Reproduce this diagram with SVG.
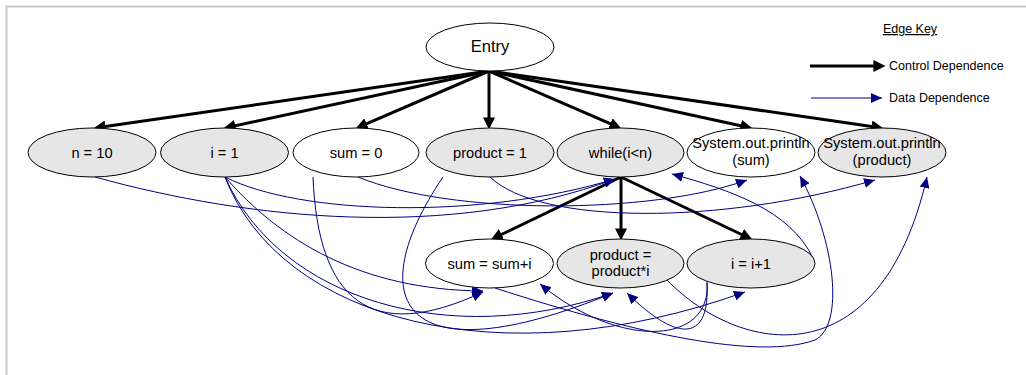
<svg xmlns="http://www.w3.org/2000/svg" width="1026" height="375" viewBox="0 0 1026 375">
  <style>
    .node ellipse { stroke: #000; stroke-width: 1; }
    .plain { fill: #fff; }
    .shaded { fill: #e6e6e6; }
    .node text { font-family: "Liberation Sans", Arial, sans-serif; font-size: 14.7px; fill: #000; text-anchor: middle; }
    .node text.big { font-size: 16.6px; }
    .ctrl { fill: none; stroke: #000; stroke-width: 3; }
    .data { fill: none; stroke: #000080; stroke-width: 1; }
    .key text { font-family: "Liberation Sans", Arial, sans-serif; font-size: 12.5px; fill: #000; }
  </style>
  <defs>
    <marker id="ctrlHead" markerUnits="userSpaceOnUse" markerWidth="12" markerHeight="12" viewBox="0 0 10 10" refX="3" refY="5" orient="auto">
      <path d="M0,0 L10,5 L0,10 Z" fill="#000"/>
    </marker>
    <marker id="dataHead" markerUnits="userSpaceOnUse" markerWidth="11" markerHeight="10" viewBox="0 0 11 10" refX="11" refY="5" orient="auto">
      <path d="M0,0 L11,5 L0,10 Z" fill="#000080"/>
    </marker>
  </defs>

  <rect width="1026" height="375" fill="#fff"/>
  <!-- panel frame -->
  <path d="M6.5,375 V6.5 H1026" fill="none" stroke="#c8c8c8" stroke-width="2"/>

  <g id="connectors">
    <!-- control dependences -->
    <path class="ctrl" marker-end="url(#ctrlHead)" d="M489,71 L101.9,127"/>
    <path class="ctrl" marker-end="url(#ctrlHead)" d="M489,71 L231.8,126.5"/>
    <path class="ctrl" marker-end="url(#ctrlHead)" d="M489,71 L363.4,125.2"/>
    <path class="ctrl" marker-end="url(#ctrlHead)" d="M489,71 L489,121"/>
    <path class="ctrl" marker-end="url(#ctrlHead)" d="M489,71 L613.6,125.2"/>
    <path class="ctrl" marker-end="url(#ctrlHead)" d="M489,71 L744.2,126.5"/>
    <path class="ctrl" marker-end="url(#ctrlHead)" d="M489,71 L875.1,127"/>
    <path class="ctrl" marker-end="url(#ctrlHead)" d="M621,177 L498.3,236"/>
    <path class="ctrl" marker-end="url(#ctrlHead)" d="M621,177 L621,232"/>
    <path class="ctrl" marker-end="url(#ctrlHead)" d="M621,177 L744.7,236"/>

    <!-- data dependences -->
    <path class="data" marker-end="url(#dataHead)" d="M95,177 C250,220 450,240 615,179"/>
    <path class="data" marker-end="url(#dataHead)" d="M225,177 C300,215 480,220 615,179"/>
    <path class="data" marker-end="url(#dataHead)" d="M225,177 C280,240 360,290 483,291"/>
    <path class="data" marker-end="url(#dataHead)" d="M225,177 C280,300 450,350 613,293"/>
    <path class="data" marker-end="url(#dataHead)" d="M225,177 C280,320 500,380 745,292"/>
    <path class="data" marker-end="url(#dataHead)" d="M313,177 C318,300 370,345 483,292"/>
    <path class="data" marker-end="url(#dataHead)" d="M358,177 C450,215 650,215 747,180"/>
    <path class="data" marker-end="url(#dataHead)" d="M443,177 C360,300 400,380 613,293"/>
    <path class="data" marker-end="url(#dataHead)" d="M490,177 C540,225 720,225 875,180"/>
    <path class="data" marker-end="url(#dataHead)" d="M495,288 C640,335 760,360 815,340 C845,325 835,240 800,176"/>
    <path class="data" marker-end="url(#dataHead)" d="M667,280 C740,355 880,380 927,177"/>
    <path class="data" marker-end="url(#dataHead)" d="M813,258 C790,210 730,190 672,174"/>
    <path class="data" marker-end="url(#dataHead)" d="M707,282 C712,345 620,350 540,284"/>
    <path class="data" marker-end="url(#dataHead)" d="M707,283 C710,340 680,345 627,293"/>
  </g>

  <g id="entry" class="node">
    <ellipse class="plain" cx="490" cy="47" rx="64" ry="24"/>
    <text class="big" x="490" y="52">Entry</text>
  </g>
  <g id="n-10" class="node">
    <ellipse class="shaded" cx="92" cy="152.5" rx="64" ry="24.5"/>
    <text x="92" y="157.5">n = 10</text>
  </g>
  <g id="i-1" class="node">
    <ellipse class="shaded" cx="224.5" cy="152.5" rx="64" ry="24.5"/>
    <text x="224.5" y="157.5">i = 1</text>
  </g>
  <g id="sum-0" class="node">
    <ellipse class="plain" cx="356" cy="152.5" rx="63" ry="24.5"/>
    <text x="356" y="157.5">sum = 0</text>
  </g>
  <g id="product-1" class="node">
    <ellipse class="shaded" cx="490" cy="152.5" rx="64" ry="24.5"/>
    <text x="490" y="157.5">product = 1</text>
  </g>
  <g id="while" class="node">
    <ellipse class="shaded" cx="620.5" cy="152.5" rx="63.5" ry="24.5"/>
    <text x="620.5" y="157.5">while(i&lt;n)</text>
  </g>
  <g id="print-sum" class="node">
    <ellipse class="plain" cx="751" cy="152.5" rx="64" ry="24.5"/>
    <text x="751" y="148">System.out.println</text>
    <text x="751" y="164.5">(sum)</text>
  </g>
  <g id="print-product" class="node">
    <ellipse class="shaded" cx="882" cy="152.5" rx="64" ry="24.5"/>
    <text x="882" y="148">System.out.println</text>
    <text x="882" y="164.5">(product)</text>
  </g>
  <g id="sum-update" class="node">
    <ellipse class="plain" cx="489.5" cy="263.5" rx="64" ry="24.5"/>
    <text x="489.5" y="268.5">sum = sum+i</text>
  </g>
  <g id="product-update" class="node">
    <ellipse class="shaded" cx="620.5" cy="263.5" rx="63.5" ry="24.5"/>
    <text x="620.5" y="259.5">product =</text>
    <text x="620.5" y="276">product*i</text>
  </g>
  <g id="i-update" class="node">
    <ellipse class="shaded" cx="751" cy="263.5" rx="64" ry="24.5"/>
    <text x="751" y="268.5">i = i+1</text>
  </g>

  <g id="edge-key" class="key">
    <text x="910" y="33" text-anchor="middle" text-decoration="underline">Edge Key</text>
    <path class="ctrl" marker-end="url(#ctrlHead)" d="M810,66 L877,66"/>
    <text x="889" y="70">Control Dependence</text>
    <path class="data" marker-end="url(#dataHead)" d="M811,98 L882,98"/>
    <text x="889" y="102">Data Dependence</text>
  </g>
</svg>
